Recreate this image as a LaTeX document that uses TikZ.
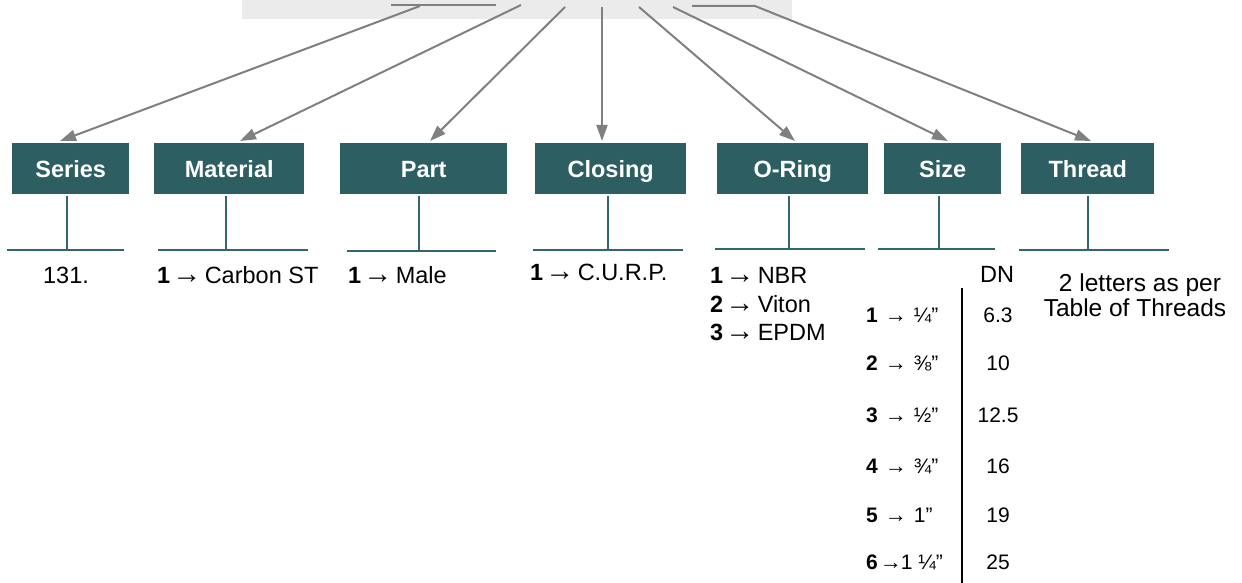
\documentclass[tikz,border=0pt]{standalone}
\usepackage{fontspec}
\setmainfont{Liberation Sans}
\usetikzlibrary{arrows.meta}
\definecolor{boxteal}{RGB}{44,94,98}
\definecolor{stemteal}{RGB}{50,104,108}
\definecolor{band}{RGB}{235,235,235}
\definecolor{arrgray}{RGB}{128,128,128}
\tikzset{
  hdr/.style={fill=boxteal, text=white, font=\bfseries\fontsize{23.5}{27}\selectfont,
    minimum height=51pt, inner sep=0pt, text height=22pt, text depth=5pt, anchor=north west},
  arr/.style={draw=arrgray, line width=2pt, -{Triangle[length=16pt,width=11pt]}},
  lead/.style={draw=arrgray, line width=2pt},
  stem/.style={draw=stemteal, line width=2pt},
  txt/.style={font=\fontsize{23.5}{27}\selectfont, inner sep=0pt},
  thr/.style={font=\fontsize{24.5}{28}\selectfont, inner sep=0pt},
  sz/.style={font=\fontsize{21}{24}\selectfont, inner sep=0pt},
}
\newcommand{\bigarr}{\hspace{2pt}{\fontsize{29}{29}\selectfont →}\hspace{3.5pt}}
\newcommand{\smarr}{\hspace{7pt}{\fontsize{22}{22}\selectfont →}\hspace{7pt}}
\newcommand{\tightarr}{\hspace{2pt}{\fontsize{22}{22}\selectfont →}\hspace{-1pt}}
\begin{document}
\begin{tikzpicture}[x=1pt,y=-1pt]
\useasboundingbox (0,0) rectangle (1242,583);
% top band
\fill[band] (242,0) rectangle (792,19);
% boxes
\node[hdr, minimum width=117pt] (series) at (12,143) {Series};
\node[hdr, minimum width=150pt] (material) at (154,143) {Material};
\node[hdr, minimum width=167pt] (part) at (340,143) {Part};
\node[hdr, minimum width=151pt] (closing) at (535,143) {Closing};
\node[hdr, minimum width=151pt] (oring) at (717,143) {O-Ring};
\node[hdr, minimum width=117pt] (size) at (884,143) {Size};
\node[hdr, minimum width=133pt] (thread) at (1021,143) {Thread};
% start points in the band
\coordinate (hA) at (391,5);
\coordinate (hB) at (496,5);
\coordinate (sS) at (420,6);
\coordinate (sM) at (521,5);
\coordinate (sP) at (565,7);
\coordinate (sC) at (602,7);
\coordinate (sO) at (639,7);
\coordinate (sZ) at (673,7);
\coordinate (hT) at (692,6);
\coordinate (sT) at (755,6);
\draw[lead] (hA) -- (hB);
\draw[arr] (sS) -- ([xshift=48pt,yshift=2pt]series.north west);
\draw[arr] (sM) -- ([xshift=86pt,yshift=2pt]material.north west);
\draw[arr] (sP) -- ([xshift=90pt,yshift=2pt]part.north west);
\draw[arr] (sC) -- ([xshift=67pt,yshift=2pt]closing.north west);
\draw[arr] (sO) -- ([xshift=78pt,yshift=2pt]oring.north west);
\draw[arr] (sZ) -- ([xshift=64pt,yshift=2pt]size.north west);
\draw[arr] (hT) -- (sT) -- ([xshift=70pt,yshift=2pt]thread.north west);
% stems below the boxes
\coordinate (bS) at (67,250);
\coordinate (bM) at (226,250);
\coordinate (bP) at (419,251);
\coordinate (bC) at (608,250);
\coordinate (bO) at (789,249);
\coordinate (bZ) at (939,249);
\coordinate (bT) at (1088,250);
\foreach \b/\n/\l/\r in {bS/series/60/57, bM/material/68/82, bP/part/72/77, bC/closing/75/75,
  bO/oring/74/76, bZ/size/61/56, bT/thread/69/81}{
  \draw[stem, shorten <=2pt] (\n.south -| \b) -- (\b);
  \draw[stem] ([xshift=-\l pt]\b) -- ([xshift=\r pt]\b);
}
% texts
\node[txt, anchor=base] (tS) at (66,283) {131.};
\node[txt, anchor=base west] (tM) at (157,283) {\textbf{1}\bigarr Carbon ST};
\node[txt, anchor=base west] (tP) at (348,283) {\textbf{1}\bigarr Male};
\node[txt, anchor=base west] (tC) at (530,280) {\textbf{1}\bigarr C.U.R.P.};
\node[txt, anchor=base west] (tO1) at (710,283) {\textbf{1}\bigarr NBR};
\node[txt, anchor=base west] (tO2) at (710,312) {\textbf{2}\bigarr Viton};
\node[txt, anchor=base west] (tO3) at (710,340) {\textbf{3}\bigarr EPDM};
% size table
\node[txt, anchor=base] (dn) at (997,282) {DN};
\draw[line width=2pt] (962,288) -- (962,583);
\node[sz, anchor=base west] (z1) at (866,322) {\textbf{1}\smarr ¼”};
\node[sz, anchor=base west] (z2) at (866,370) {\textbf{2}\smarr ⅜”};
\node[sz, anchor=base west] (z3) at (866,422) {\textbf{3}\smarr ½”};
\node[sz, anchor=base west] (z4) at (866,473) {\textbf{4}\smarr ¾”};
\node[sz, anchor=base west] (z5) at (866,522) {\textbf{5}\smarr 1”};
\node[sz, anchor=base west] (z6) at (866,569) {\textbf{6}\tightarr 1 ¼”};
\node[sz, anchor=base] (d1) at (998,322) {6.3};
\node[sz, anchor=base] (d2) at (998,370) {10};
\node[sz, anchor=base] (d3) at (998,422) {12.5};
\node[sz, anchor=base] (d4) at (998,473) {16};
\node[sz, anchor=base] (d5) at (998,522) {19};
\node[sz, anchor=base] (d6) at (998,569) {25};
% thread text
\node[thr, anchor=base] (th1) at (1140,291) {2 letters as per};
\node[thr, anchor=base] (th2) at (1135,316) {Table of Threads};
\end{tikzpicture}
\end{document}
